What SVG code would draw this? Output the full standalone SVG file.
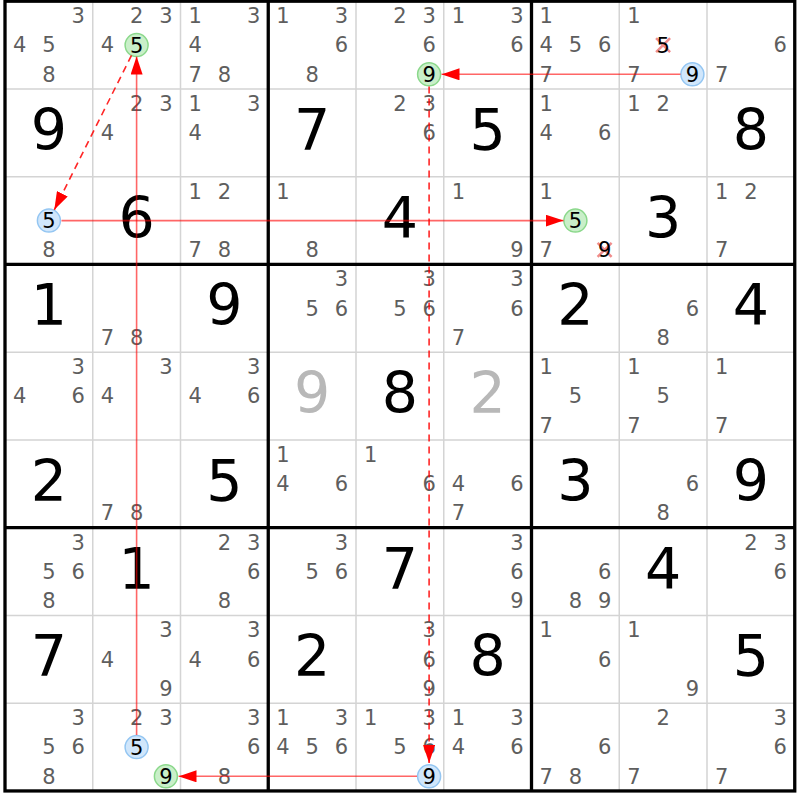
<svg xmlns="http://www.w3.org/2000/svg" width="800" height="800" viewBox="0 0 800 800">
<style>
text{font-family:"DejaVu Sans","Verdana",sans-serif;text-anchor:middle}
.c{font-size:21px;fill:#5e5e5e}
.h{font-size:21px;fill:#000}
.g{font-size:57px;fill:#000}
.gg{font-size:57px;fill:#b8b8b8}
.thin{stroke:#d4d4d4;stroke-width:1.5}
.thick{stroke:#000;stroke-width:3.3}
.cg{fill:#c9efc9;stroke:#8bd88b;stroke-width:1.5}
.cb{fill:#d0e6fb;stroke:#94c6f2;stroke-width:1.5}
.x{stroke:#f08c8c;stroke-width:2.5}
.s{stroke:rgba(255,0,0,0.6);stroke-width:1.6;fill:none}
.d{stroke:rgba(255,0,0,0.85);stroke-width:1.6;fill:none;stroke-dasharray:7 5}
</style>
<defs>
<marker id="ah" viewBox="0 0 18 12" refX="18" refY="6" markerWidth="18" markerHeight="12" markerUnits="userSpaceOnUse" orient="auto"><path d="M0,0 L18,6 L0,12 z" fill="#ff0000"/></marker>
</defs>
<rect x="0" y="0" width="800" height="800" fill="#fff"/>
<g id="grid">
<path class="thin" d="M92.75,1.2V790.95M180.5,1.2V790.95M356,1.2V790.95M443.75,1.2V790.95M619.25,1.2V790.95M707,1.2V790.95M5,88.95H794.75M5,176.7H794.75M5,352.2H794.75M5,439.95H794.75M5,615.45H794.75M5,703.2H794.75"/>
<path class="thick" d="M268.25,1.2V790.95M531.5,1.2V790.95M5,264.45H794.75M5,527.7H794.75"/>
<rect class="thick" x="5" y="1.2" width="789.75" height="789.75" fill="none"/>
</g>
<g id="row0">
<g id="r0c0"><text class="c" x="78.1" y="23.1">3</text><text class="c" x="19.6" y="52.4">4</text><text class="c" x="48.9" y="52.4">5</text><text class="c" x="48.9" y="81.6">8</text></g>
<g id="r0c1"><text class="c" x="136.6" y="23.1">2</text><text class="c" x="165.9" y="23.1">3</text><text class="c" x="107.4" y="52.4">4</text><circle class="cg" cx="136.6" cy="45.1" r="11.5"/><text class="h" x="136.6" y="52.6">5</text></g>
<g id="r0c2"><text class="c" x="195.1" y="23.1">1</text><text class="c" x="253.6" y="23.1">3</text><text class="c" x="195.1" y="52.4">4</text><text class="c" x="195.1" y="81.6">7</text><text class="c" x="224.4" y="81.6">8</text></g>
<g id="r0c3"><text class="c" x="282.9" y="23.1">1</text><text class="c" x="341.4" y="23.1">3</text><text class="c" x="341.4" y="52.4">6</text><text class="c" x="312.1" y="81.6">8</text></g>
<g id="r0c4"><text class="c" x="399.9" y="23.1">2</text><text class="c" x="429.1" y="23.1">3</text><text class="c" x="429.1" y="52.4">6</text><circle class="cg" cx="429.1" cy="74.3" r="11.5"/><text class="h" x="429.1" y="81.8">9</text></g>
<g id="r0c5"><text class="c" x="458.4" y="23.1">1</text><text class="c" x="516.9" y="23.1">3</text><text class="c" x="516.9" y="52.4">6</text></g>
<g id="r0c6"><text class="c" x="546.1" y="23.1">1</text><text class="c" x="546.1" y="52.4">4</text><text class="c" x="575.4" y="52.4">5</text><text class="c" x="604.6" y="52.4">6</text><text class="c" x="546.1" y="81.6">7</text></g>
<g id="r0c7"><text class="c" x="633.9" y="23.1">1</text><path class="x" d="M656.1,38.1L670.1,52.1M670.1,38.1L656.1,52.1"/><text class="h" x="663.1" y="52.6">5</text><text class="c" x="633.9" y="81.6">7</text><circle class="cb" cx="692.4" cy="74.3" r="11.5"/><text class="h" x="692.4" y="81.8">9</text></g>
<g id="r0c8"><text class="c" x="780.1" y="52.4">6</text><text class="c" x="721.6" y="81.6">7</text></g>
</g>
<g id="row1">
<g id="r1c0"><text class="g" x="48.9" y="149.8">9</text></g>
<g id="r1c1"><text class="c" x="136.6" y="110.9">2</text><text class="c" x="165.9" y="110.9">3</text><text class="c" x="107.4" y="140.1">4</text></g>
<g id="r1c2"><text class="c" x="195.1" y="110.9">1</text><text class="c" x="253.6" y="110.9">3</text><text class="c" x="195.1" y="140.1">4</text></g>
<g id="r1c3"><text class="g" x="312.1" y="149.8">7</text></g>
<g id="r1c4"><text class="c" x="399.9" y="110.9">2</text><text class="c" x="429.1" y="110.9">3</text><text class="c" x="429.1" y="140.1">6</text></g>
<g id="r1c5"><text class="g" x="487.6" y="149.8">5</text></g>
<g id="r1c6"><text class="c" x="546.1" y="110.9">1</text><text class="c" x="546.1" y="140.1">4</text><text class="c" x="604.6" y="140.1">6</text></g>
<g id="r1c7"><text class="c" x="633.9" y="110.9">1</text><text class="c" x="663.1" y="110.9">2</text></g>
<g id="r1c8"><text class="g" x="750.9" y="149.8">8</text></g>
</g>
<g id="row2">
<g id="r2c0"><circle class="cb" cx="48.9" cy="220.6" r="11.5"/><text class="h" x="48.9" y="228.1">5</text><text class="c" x="48.9" y="257.1">8</text></g>
<g id="r2c1"><text class="g" x="136.6" y="237.6">6</text></g>
<g id="r2c2"><text class="c" x="195.1" y="198.6">1</text><text class="c" x="224.4" y="198.6">2</text><text class="c" x="195.1" y="257.1">7</text><text class="c" x="224.4" y="257.1">8</text></g>
<g id="r2c3"><text class="c" x="282.9" y="198.6">1</text><text class="c" x="312.1" y="257.1">8</text></g>
<g id="r2c4"><text class="g" x="399.9" y="237.6">4</text></g>
<g id="r2c5"><text class="c" x="458.4" y="198.6">1</text><text class="c" x="516.9" y="257.1">9</text></g>
<g id="r2c6"><text class="c" x="546.1" y="198.6">1</text><circle class="cg" cx="575.4" cy="220.6" r="11.5"/><text class="h" x="575.4" y="228.1">5</text><text class="c" x="546.1" y="257.1">7</text><path class="x" d="M597.6,242.8L611.6,256.8M611.6,242.8L597.6,256.8"/><text class="h" x="604.6" y="257.3">9</text></g>
<g id="r2c7"><text class="g" x="663.1" y="237.6">3</text></g>
<g id="r2c8"><text class="c" x="721.6" y="198.6">1</text><text class="c" x="750.9" y="198.6">2</text><text class="c" x="721.6" y="257.1">7</text></g>
</g>
<g id="row3">
<g id="r3c0"><text class="g" x="48.9" y="325.3">1</text></g>
<g id="r3c1"><text class="c" x="107.4" y="344.9">7</text><text class="c" x="136.6" y="344.9">8</text></g>
<g id="r3c2"><text class="g" x="224.4" y="325.3">9</text></g>
<g id="r3c3"><text class="c" x="341.4" y="286.4">3</text><text class="c" x="312.1" y="315.6">5</text><text class="c" x="341.4" y="315.6">6</text></g>
<g id="r3c4"><text class="c" x="429.1" y="286.4">3</text><text class="c" x="399.9" y="315.6">5</text><text class="c" x="429.1" y="315.6">6</text></g>
<g id="r3c5"><text class="c" x="516.9" y="286.4">3</text><text class="c" x="516.9" y="315.6">6</text><text class="c" x="458.4" y="344.9">7</text></g>
<g id="r3c6"><text class="g" x="575.4" y="325.3">2</text></g>
<g id="r3c7"><text class="c" x="692.4" y="315.6">6</text><text class="c" x="663.1" y="344.9">8</text></g>
<g id="r3c8"><text class="g" x="750.9" y="325.3">4</text></g>
</g>
<g id="row4">
<g id="r4c0"><text class="c" x="78.1" y="374.1">3</text><text class="c" x="19.6" y="403.4">4</text><text class="c" x="78.1" y="403.4">6</text></g>
<g id="r4c1"><text class="c" x="165.9" y="374.1">3</text><text class="c" x="107.4" y="403.4">4</text></g>
<g id="r4c2"><text class="c" x="253.6" y="374.1">3</text><text class="c" x="195.1" y="403.4">4</text><text class="c" x="253.6" y="403.4">6</text></g>
<g id="r4c3"><text class="gg" x="312.1" y="413.1">9</text></g>
<g id="r4c4"><text class="g" x="399.9" y="413.1">8</text></g>
<g id="r4c5"><text class="gg" x="487.6" y="413.1">2</text></g>
<g id="r4c6"><text class="c" x="546.1" y="374.1">1</text><text class="c" x="575.4" y="403.4">5</text><text class="c" x="546.1" y="432.6">7</text></g>
<g id="r4c7"><text class="c" x="633.9" y="374.1">1</text><text class="c" x="663.1" y="403.4">5</text><text class="c" x="633.9" y="432.6">7</text></g>
<g id="r4c8"><text class="c" x="721.6" y="374.1">1</text><text class="c" x="721.6" y="432.6">7</text></g>
</g>
<g id="row5">
<g id="r5c0"><text class="g" x="48.9" y="500.8">2</text></g>
<g id="r5c1"><text class="c" x="107.4" y="520.4">7</text><text class="c" x="136.6" y="520.4">8</text></g>
<g id="r5c2"><text class="g" x="224.4" y="500.8">5</text></g>
<g id="r5c3"><text class="c" x="282.9" y="461.9">1</text><text class="c" x="282.9" y="491.1">4</text><text class="c" x="341.4" y="491.1">6</text></g>
<g id="r5c4"><text class="c" x="370.6" y="461.9">1</text><text class="c" x="429.1" y="491.1">6</text></g>
<g id="r5c5"><text class="c" x="458.4" y="491.1">4</text><text class="c" x="516.9" y="491.1">6</text><text class="c" x="458.4" y="520.4">7</text></g>
<g id="r5c6"><text class="g" x="575.4" y="500.8">3</text></g>
<g id="r5c7"><text class="c" x="692.4" y="491.1">6</text><text class="c" x="663.1" y="520.4">8</text></g>
<g id="r5c8"><text class="g" x="750.9" y="500.8">9</text></g>
</g>
<g id="row6">
<g id="r6c0"><text class="c" x="78.1" y="549.6">3</text><text class="c" x="48.9" y="578.9">5</text><text class="c" x="78.1" y="578.9">6</text><text class="c" x="48.9" y="608.1">8</text></g>
<g id="r6c1"><text class="g" x="136.6" y="588.6">1</text></g>
<g id="r6c2"><text class="c" x="224.4" y="549.6">2</text><text class="c" x="253.6" y="549.6">3</text><text class="c" x="253.6" y="578.9">6</text><text class="c" x="224.4" y="608.1">8</text></g>
<g id="r6c3"><text class="c" x="341.4" y="549.6">3</text><text class="c" x="312.1" y="578.9">5</text><text class="c" x="341.4" y="578.9">6</text></g>
<g id="r6c4"><text class="g" x="399.9" y="588.6">7</text></g>
<g id="r6c5"><text class="c" x="516.9" y="549.6">3</text><text class="c" x="516.9" y="578.9">6</text><text class="c" x="516.9" y="608.1">9</text></g>
<g id="r6c6"><text class="c" x="604.6" y="578.9">6</text><text class="c" x="575.4" y="608.1">8</text><text class="c" x="604.6" y="608.1">9</text></g>
<g id="r6c7"><text class="g" x="663.1" y="588.6">4</text></g>
<g id="r6c8"><text class="c" x="750.9" y="549.6">2</text><text class="c" x="780.1" y="549.6">3</text><text class="c" x="780.1" y="578.9">6</text></g>
</g>
<g id="row7">
<g id="r7c0"><text class="g" x="48.9" y="676.3">7</text></g>
<g id="r7c1"><text class="c" x="165.9" y="637.4">3</text><text class="c" x="107.4" y="666.6">4</text><text class="c" x="165.9" y="695.9">9</text></g>
<g id="r7c2"><text class="c" x="253.6" y="637.4">3</text><text class="c" x="195.1" y="666.6">4</text><text class="c" x="253.6" y="666.6">6</text></g>
<g id="r7c3"><text class="g" x="312.1" y="676.3">2</text></g>
<g id="r7c4"><text class="c" x="429.1" y="637.4">3</text><text class="c" x="429.1" y="666.6">6</text><text class="c" x="429.1" y="695.9">9</text></g>
<g id="r7c5"><text class="g" x="487.6" y="676.3">8</text></g>
<g id="r7c6"><text class="c" x="546.1" y="637.4">1</text><text class="c" x="604.6" y="666.6">6</text></g>
<g id="r7c7"><text class="c" x="633.9" y="637.4">1</text><text class="c" x="692.4" y="695.9">9</text></g>
<g id="r7c8"><text class="g" x="750.9" y="676.3">5</text></g>
</g>
<g id="row8">
<g id="r8c0"><text class="c" x="78.1" y="725.1">3</text><text class="c" x="48.9" y="754.4">5</text><text class="c" x="78.1" y="754.4">6</text><text class="c" x="48.9" y="783.6">8</text></g>
<g id="r8c1"><text class="c" x="136.6" y="725.1">2</text><text class="c" x="165.9" y="725.1">3</text><circle class="cb" cx="136.6" cy="747.1" r="11.5"/><text class="h" x="136.6" y="754.6">5</text><circle class="cg" cx="165.9" cy="776.3" r="11.5"/><text class="h" x="165.9" y="783.8">9</text></g>
<g id="r8c2"><text class="c" x="253.6" y="725.1">3</text><text class="c" x="253.6" y="754.4">6</text><text class="c" x="224.4" y="783.6">8</text></g>
<g id="r8c3"><text class="c" x="282.9" y="725.1">1</text><text class="c" x="341.4" y="725.1">3</text><text class="c" x="282.9" y="754.4">4</text><text class="c" x="312.1" y="754.4">5</text><text class="c" x="341.4" y="754.4">6</text></g>
<g id="r8c4"><text class="c" x="370.6" y="725.1">1</text><text class="c" x="429.1" y="725.1">3</text><text class="c" x="399.9" y="754.4">5</text><text class="c" x="429.1" y="754.4">6</text><circle class="cb" cx="429.1" cy="776.3" r="11.5"/><text class="h" x="429.1" y="783.8">9</text></g>
<g id="r8c5"><text class="c" x="458.4" y="725.1">1</text><text class="c" x="516.9" y="725.1">3</text><text class="c" x="458.4" y="754.4">4</text><text class="c" x="516.9" y="754.4">6</text></g>
<g id="r8c6"><text class="c" x="604.6" y="754.4">6</text><text class="c" x="546.1" y="783.6">7</text><text class="c" x="575.4" y="783.6">8</text></g>
<g id="r8c7"><text class="c" x="663.1" y="725.1">2</text><text class="c" x="633.9" y="783.6">7</text></g>
<g id="r8c8"><text class="c" x="780.1" y="725.1">3</text><text class="c" x="780.1" y="754.4">6</text><text class="c" x="721.6" y="783.6">7</text></g>
</g>
<g id="connectors">
<line class="s" x1="61.5" y1="220.6" x2="563.5" y2="220.6" marker-end="url(#ah)"/>
<line class="s" x1="136.6" y1="735" x2="136.6" y2="56.5" marker-end="url(#ah)"/>
<line class="d" x1="131.5" y1="55.3" x2="54.3" y2="209.8" marker-end="url(#ah)"/>
<line class="s" x1="680.5" y1="74.3" x2="441.5" y2="74.3" marker-end="url(#ah)"/>
<line class="d" x1="429.1" y1="86.5" x2="429.1" y2="763" marker-end="url(#ah)"/>
<line class="s" x1="417" y1="776.3" x2="178.5" y2="776.3" marker-end="url(#ah)"/>
</g>
</svg>
